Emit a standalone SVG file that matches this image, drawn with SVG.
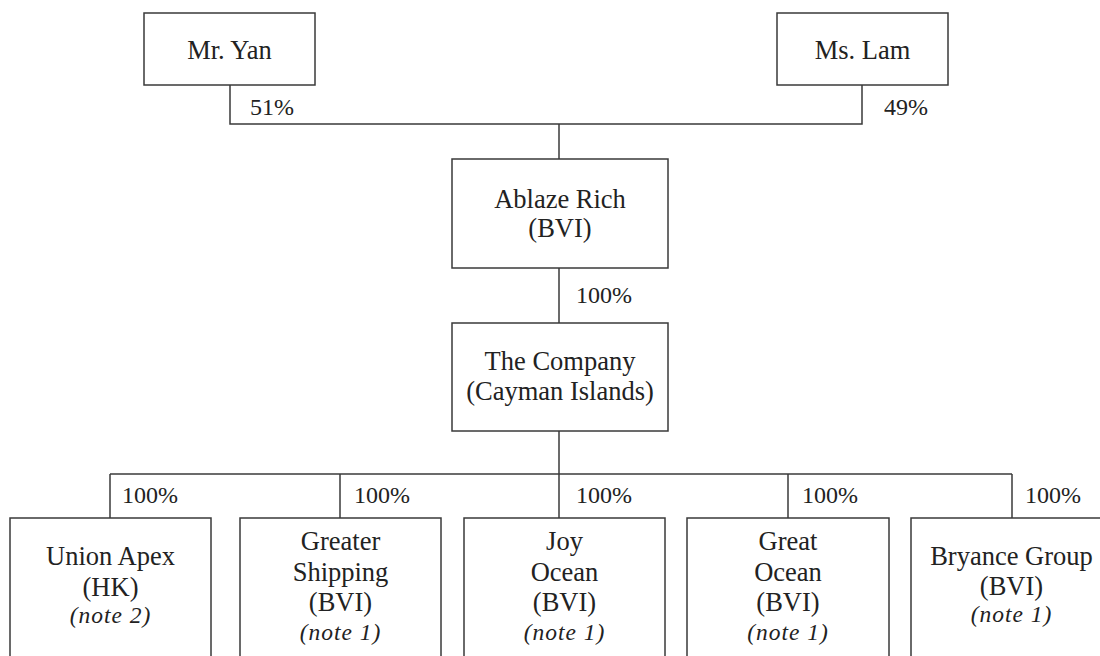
<svg xmlns="http://www.w3.org/2000/svg" width="1100" height="656" viewBox="0 0 1100 656">
<style>
.box{fill:#fff;stroke:#3a3a3a;stroke-width:1.5}
.ln{fill:none;stroke:#3a3a3a;stroke-width:1.5}
text{font-family:"Liberation Serif","Times New Roman",serif;fill:#222}
.t{font-size:26.5px;text-anchor:middle}
.p{font-size:24px}
.n{font-size:23.5px;font-style:italic;text-anchor:middle;letter-spacing:1px}
</style>
<rect width="1100" height="656" fill="#fff"/>
<g id="connectors">
<polyline class="ln" points="230,85 230,124 862,124 862,85"/>
<line class="ln" x1="559" y1="124" x2="559" y2="159"/>
<line class="ln" x1="559" y1="268" x2="559" y2="323"/>
<line class="ln" x1="559" y1="431" x2="559" y2="474"/>
<line class="ln" x1="110" y1="474" x2="1012" y2="474"/>
<line class="ln" x1="110" y1="474" x2="110" y2="518"/>
<line class="ln" x1="340" y1="474" x2="340" y2="518"/>
<line class="ln" x1="559" y1="474" x2="559" y2="518"/>
<line class="ln" x1="788" y1="474" x2="788" y2="518"/>
<line class="ln" x1="1012" y1="474" x2="1012" y2="518"/>
<text class="p" x="250" y="115">51%</text>
<text class="p" x="884" y="115">49%</text>
<text class="p" x="576" y="303">100%</text>
<text class="p" x="122" y="503">100%</text>
<text class="p" x="354" y="503">100%</text>
<text class="p" x="576" y="503">100%</text>
<text class="p" x="802" y="503">100%</text>
<text class="p" x="1025" y="503">100%</text>
</g>
<g id="mr-yan">
<rect class="box" x="144" y="13" width="171" height="72"/>
<text class="t" x="229.5" y="59">Mr. Yan</text>
</g>
<g id="ms-lam">
<rect class="box" x="777" y="13" width="171" height="72"/>
<text class="t" x="862.5" y="59">Ms. Lam</text>
</g>
<g id="ablaze-rich">
<rect class="box" x="452" y="159" width="216" height="109"/>
<text class="t" x="560" y="208">Ablaze Rich</text>
<text class="t" x="560" y="237">(BVI)</text>
</g>
<g id="the-company">
<rect class="box" x="452" y="323" width="216" height="108"/>
<text class="t" x="560" y="370">The Company</text>
<text class="t" x="560" y="400">(Cayman Islands)</text>
</g>
<g id="union-apex">
<rect class="box" x="10" y="518" width="201" height="145"/>
<text class="t" x="110.5" y="565">Union Apex</text>
<text class="t" x="110.5" y="596">(HK)</text>
<text class="n" x="110.5" y="623">(note 2)</text>
</g>
<g id="greater-shipping">
<rect class="box" x="240" y="518" width="201" height="145"/>
<text class="t" x="340.5" y="550">Greater</text>
<text class="t" x="340.5" y="581">Shipping</text>
<text class="t" x="340.5" y="611">(BVI)</text>
<text class="n" x="340.5" y="640">(note 1)</text>
</g>
<g id="joy-ocean">
<rect class="box" x="464" y="518" width="201" height="145"/>
<text class="t" x="564.5" y="550">Joy</text>
<text class="t" x="564.5" y="581">Ocean</text>
<text class="t" x="564.5" y="611">(BVI)</text>
<text class="n" x="564.5" y="640">(note 1)</text>
</g>
<g id="great-ocean">
<rect class="box" x="687" y="518" width="202" height="145"/>
<text class="t" x="788" y="550">Great</text>
<text class="t" x="788" y="581">Ocean</text>
<text class="t" x="788" y="611">(BVI)</text>
<text class="n" x="788" y="640">(note 1)</text>
</g>
<g id="bryance-group">
<rect class="box" x="911" y="518" width="201" height="145"/>
<text class="t" x="1011.5" y="565">Bryance Group</text>
<text class="t" x="1011.5" y="595">(BVI)</text>
<text class="n" x="1011.5" y="622">(note 1)</text>
</g>
</svg>
